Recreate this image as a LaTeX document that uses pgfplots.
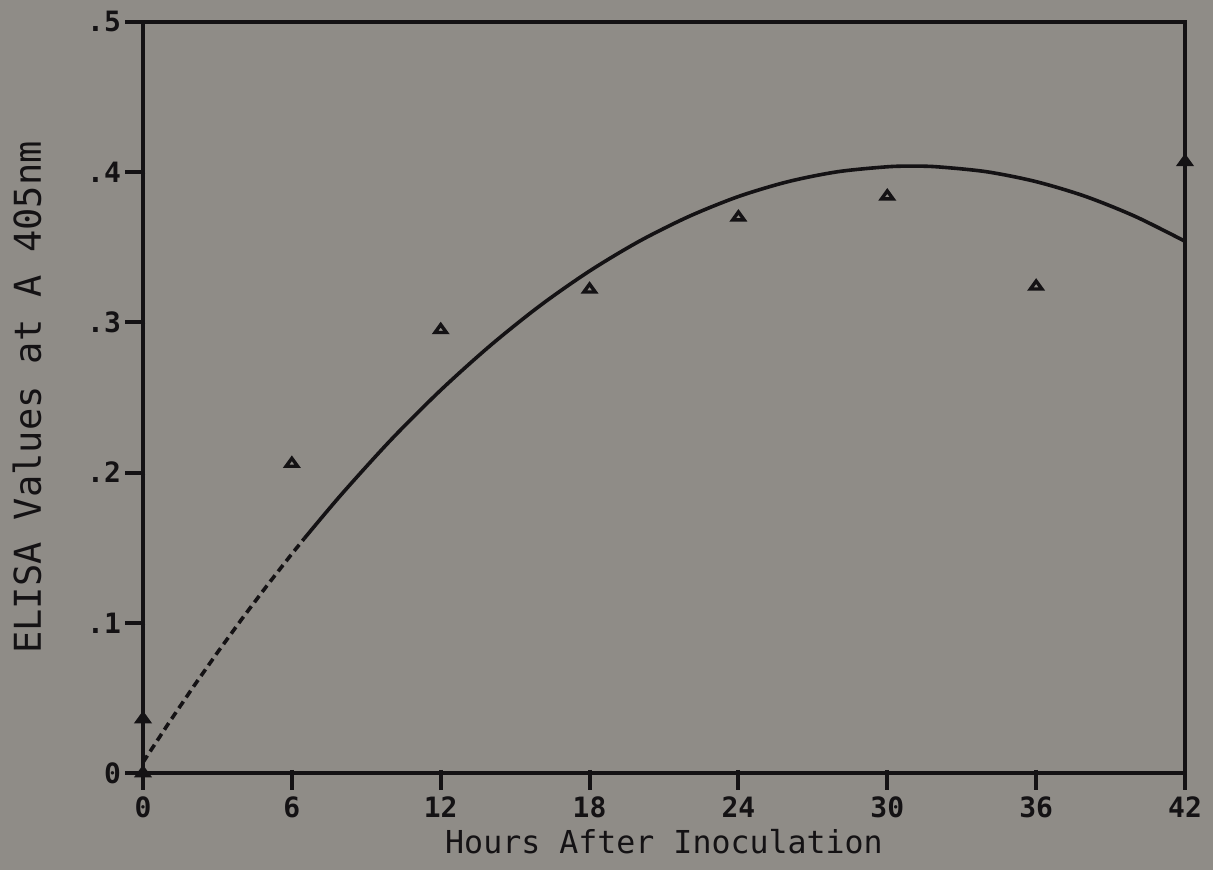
\documentclass[border=0pt]{standalone}
\usepackage{pgfplots}
\pgfplotsset{compat=1.18}
\usepackage{fontspec}
\setmainfont{DejaVu Sans Mono}
\definecolor{paper}{HTML}{8F8C87}
\definecolor{ink}{HTML}{141214}

\begin{document}
\begin{tikzpicture}
  % page background, also the picture's bounding box
  \fill[paper] (-71.5pt,-48.5pt) rectangle (535pt,386.5pt);
  \useasboundingbox (-71.5pt,-48.5pt) rectangle (535pt,386.5pt);
  \begin{axis}[
      at={(0,0)}, anchor=south west,
      scale only axis,
      width=521pt, height=375.5pt,
      xmin=0, xmax=42, ymin=0, ymax=0.5,
      xtick={0,6,...,42},
      ytick={0,0.1,0.2,0.3,0.4,0.5},
      yticklabels={0,.1,.2,.3,.4,.5},
      xtick pos=left, ytick pos=left,
      tick align=outside,
      major tick length=8.5pt,
      axis line style={draw=ink, line width=2pt},
      major tick style={draw=ink, line width=2pt},
      /pgf/number format/assume math mode=true,
      tick label style={font=\fontsize{14}{16}\selectfont\bfseries, text=ink},
      xticklabel style={yshift=0pt},
      yticklabel style={xshift=1pt},
      xlabel={Hours After Inoculation},
      ylabel={ELISA Values at A 405nm},
      x label style={font=\fontsize{15.8}{18}\selectfont, text=ink, yshift=1.5pt},
      y label style={font=\fontsize{18.5}{20}\selectfont, text=ink, yshift=16pt},
      clip=false,
    ]
    % tick strokes, drawn as short lines in axis units
    \pgfplotsinvokeforeach{0,6,12,18,24,30,36,42}{
      \addplot[ink, line width=2pt, forget plot] coordinates {(#1,0.002) (#1,-0.0113)};
    }
    \pgfplotsinvokeforeach{0,0.1,0.2,0.3,0.4,0.5}{
      \addplot[ink, line width=2pt, forget plot] coordinates {(0.1,#1) (-0.7255,#1)};
    }
    % fitted curve, dashed near the origin
    \addplot[ink, line width=1.8pt, dash pattern=on 4pt off 2.5pt] coordinates {
      (0,0.0071) (1,0.0323) (2,0.0567) (3,0.0802) (4,0.1029) (5,0.1248) (6,0.1459) (6.5,0.1561)
    };
    \addplot[ink, line width=1.8pt, smooth] coordinates {
      (6.5,0.1561) (8,0.1855) (10,0.2219) (12,0.2549) (14,0.2846) (16,0.3111)
      (18,0.3342) (20,0.3540) (22,0.3705) (24,0.3838) (26,0.3937) (28,0.4003)
      (30,0.4036) (31,0.4040) (32,0.4036) (34,0.4003) (36,0.3937) (38,0.3838)
      (40,0.3705) (42,0.3540)
    };
    % measured values
    \addplot[only marks, mark=triangle, mark size=3.3pt,
      mark options={draw=ink, fill=paper, line width=1.7pt, yscale=0.8}] coordinates {
      (0,0.0) (0,0.036) (6,0.206) (12,0.295) (18,0.322) (24,0.370)
      (30,0.384) (36,0.324) (42,0.407)
    };
  \end{axis}
\end{tikzpicture}
\end{document}
